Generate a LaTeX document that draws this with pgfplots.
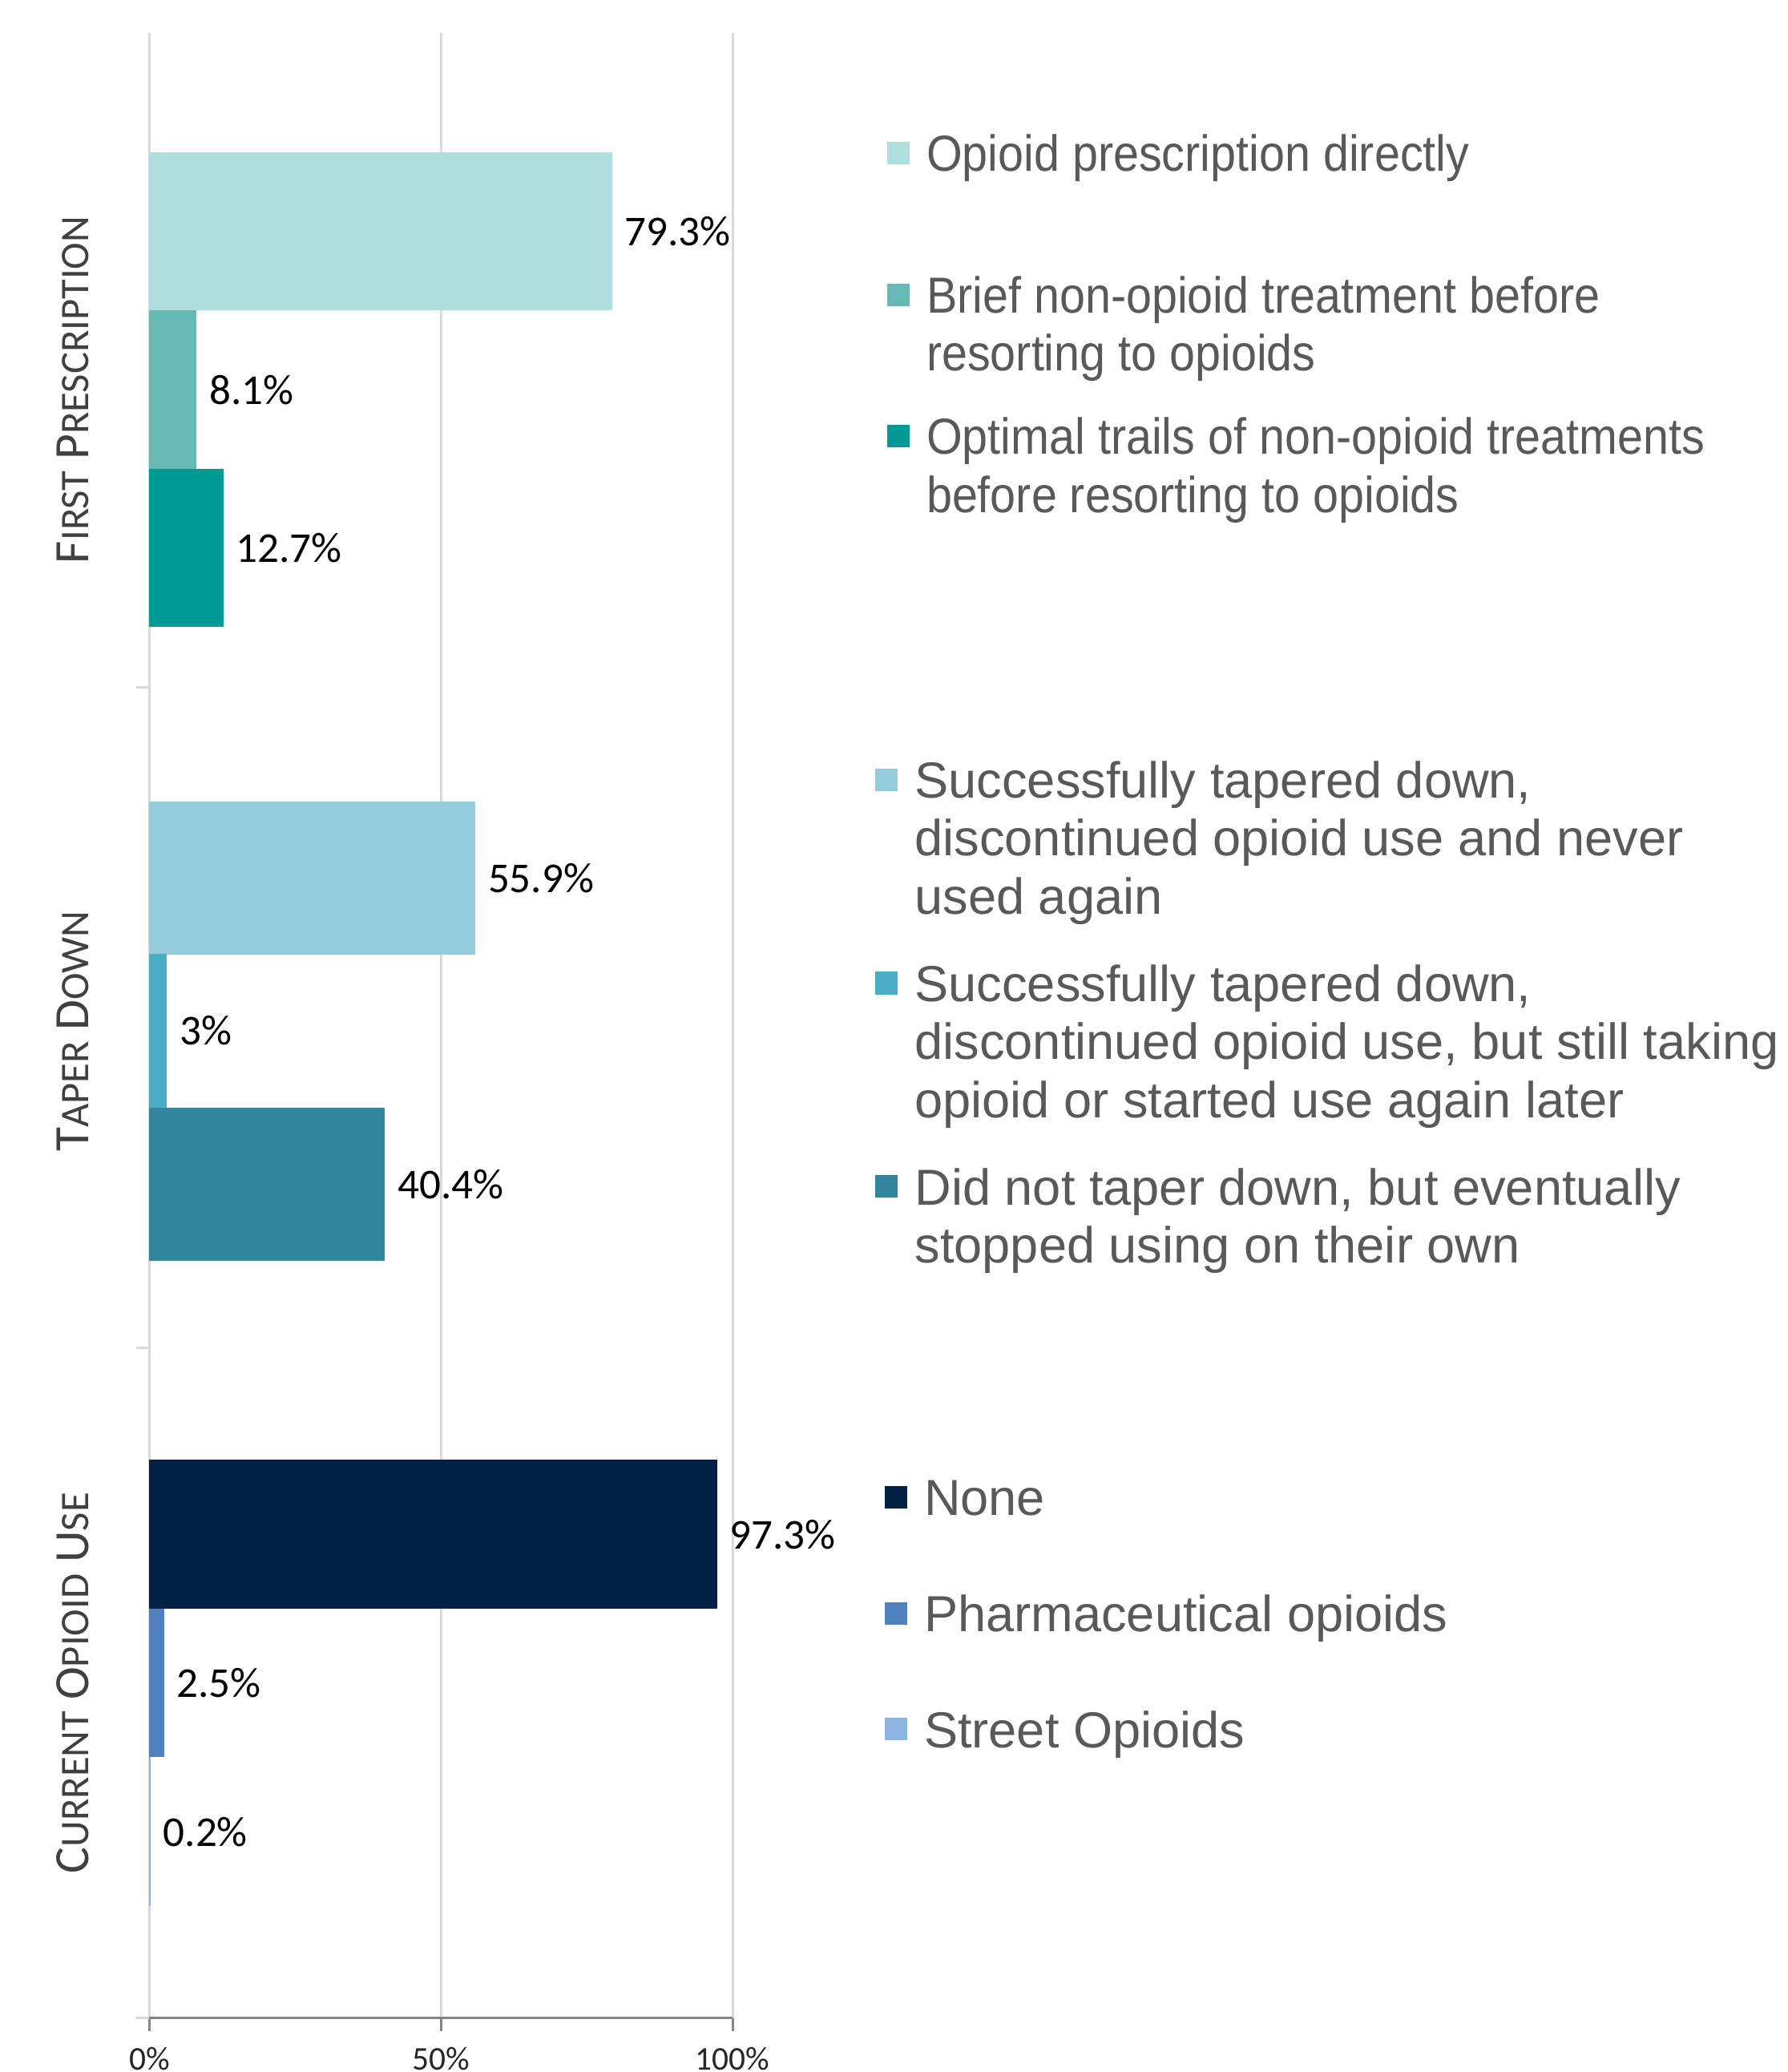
\documentclass[border=0pt]{standalone}
\usepackage{pgfplots}
\pgfplotsset{compat=1.18}
\usepackage{fontspec}
\setmainfont{Carlito}
\newfontfamily\legfont{Liberation Sans}
\newfontfamily\legfontn[FakeStretch=0.91]{Liberation Sans}

\definecolor{gridgray}{HTML}{D9D9D9}
\definecolor{axisgray}{HTML}{868686}
\definecolor{legtext}{HTML}{595959}
\definecolor{cattext}{HTML}{404040}
\definecolor{ticktext}{HTML}{262626}
\definecolor{fpA}{HTML}{AEDFDD}
\definecolor{fpB}{HTML}{66B9B5}
\definecolor{fpC}{HTML}{009A96}
\definecolor{tdA}{HTML}{95CCDC}
\definecolor{tdB}{HTML}{4BACC6}
\definecolor{tdC}{HTML}{31859C}
\definecolor{cuA}{HTML}{002046}
\definecolor{cuB}{HTML}{4F81BD}
\definecolor{cuC}{HTML}{8EB4E3}

% legend entries: top-aligned tabular so the square sits on the first line
\newcommand{\ent}[1]{\begin{tabular}[t]{@{}l@{}}#1\end{tabular}}
% fake small caps for the category names
\newcommand{\bc}[1]{{\fontsize{11.3}{13}\selectfont #1}}
\newcommand{\smc}[1]{{\fontsize{9.3}{13}\selectfont #1}}

\pgfplotsset{
  panel/.style={
    scale only axis, width=133.6pt,
    xmin=0, xmax=100, ymin=0, clip=false,
    xtick={0,50,100}, xticklabels={}, xmajorgrids,
    grid style={draw=gridgray, line width=0.6pt},
    axis line style={draw=none},
    xtick style={draw=none},
    ytick={0}, yticklabels={}, ytick pos=left,
    ytick style={draw=gridgray, line width=0.6pt},
    tick align=outside, major tick length=3pt,
    ylabel style={font=\fontsize{11.3}{13}\selectfont, text=cattext},
    legend style={draw=none, fill=none, inner sep=0pt, outer sep=0pt,
      anchor=north west, column sep=3.9pt,
      cells={anchor=base west},
      nodes={inner sep=0pt, text=legtext, text depth={}}},
  },
  bars/.style={xbar, bar shift=0pt, draw=none, fill=#1,
    nodes near coords, point meta=explicit symbolic,
    every node near coord/.append style={font=\fontsize{9.75}{11}\selectfont,
      text=black, inner sep=0pt, anchor=west, xshift=2.7pt},
    legend image code/.code={\fill[#1] (0pt,1.6pt) rectangle (5.1pt,6.75pt);}},
}

\begin{document}
\begin{tikzpicture}

% First prescription
\begin{axis}[panel, at={(34.24pt,-7.57pt)}, anchor=north west,
  height=149.84pt, ymax=495,
  ylabel={\bc{F}\smc{IRST} \bc{P}\smc{RESCRIPTION}},
  ylabel style={at={(axis description cs:-0.1315,0.4545)}, anchor=center},
  legend style={at={(axis description cs:1.265,0.8505)}, row sep=5.8pt,
    font=\legfontn\fontsize{11.6}{13.3}\selectfont}]
\addplot[bars=fpA, bar width=120] coordinates {(79.3,345) [79.3\%]};
\addlegendentry{\ent{Opioid prescription directly\\ \mbox{}}}
\addplot[bars=fpB, bar width=120] coordinates {(8.1,225) [8.1\%]};
\addlegendentry{\ent{Brief non-opioid treatment before\\resorting to opioids}}
\addplot[bars=fpC, bar width=120] coordinates {(12.7,105.5) [12.7\%]};
\addlegendentry{\ent{Optimal trails of non-opioid treatments\\before resorting to opioids}}
\end{axis}

% Taper down
\begin{axis}[panel, at={(34.24pt,-157.40pt)}, anchor=north west,
  height=151.35pt, ymax=500,
  ylabel={\bc{T}\smc{APER} \bc{D}\smc{OWN}},
  ylabel style={at={(axis description cs:-0.1315,0.479)}, anchor=center},
  legend style={at={(axis description cs:1.245,0.894)}, row sep=6.7pt,
    font=\legfont\fontsize{11.6}{13.3}\selectfont}]
\addplot[bars=tdA, bar width=116] coordinates {(55.9,355.5) [55.9\%]};
\addlegendentry{\ent{Successfully tapered down,\\discontinued opioid use and never\\used again}}
\addplot[bars=tdB, bar width=116] coordinates {(3,240) [3\%]};
\addlegendentry{\ent{Successfully tapered down,\\discontinued opioid use, but still taking\\opioid or started use again later}}
\addplot[bars=tdC, bar width=116] coordinates {(40.4,124) [40.4\%]};
\addlegendentry{\ent{Did not taper down, but eventually\\stopped using on their own}}
\end{axis}

% Current opioid use
\begin{axis}[panel, at={(34.24pt,-308.75pt)}, anchor=north west,
  height=153.47pt, ymax=507,
  axis x line*=bottom,
  x axis line style={draw=axisgray, line width=0.6pt},
  xtick style={draw=axisgray, line width=0.6pt},
  xticklabels={0\%,50\%,100\%},
  xticklabel style={font=\fontsize{7.6}{9}\selectfont, text=ticktext,
    inner sep=0pt, yshift=-3.6pt},
  ylabel={\bc{C}\smc{URRENT} \bc{O}\smc{PIOID} \bc{U}\smc{SE}},
  ylabel style={at={(axis description cs:-0.1315,0.5)}, anchor=center},
  legend style={at={(axis description cs:1.261,0.811)}, row sep=13.3pt,
    font=\legfont\fontsize{11.6}{13.3}\selectfont}]
\addplot[bars=cuA, bar width=112.5] coordinates {(97.3,366) [97.3\%]};
\addlegendentry{\ent{None}}
\addplot[bars=cuB, bar width=112.5] coordinates {(2.5,253.5) [2.5\%]};
\addlegendentry{\ent{Pharmaceutical opioids}}
\addplot[bars=cuC, bar width=112.5] coordinates {(0.2,141) [0.2\%]};
\addlegendentry{\ent{Street Opioids}}
\end{axis}

\pgfresetboundingbox
\useasboundingbox (0,0) rectangle (409.5pt,-474.6pt);
\end{tikzpicture}
\end{document}
